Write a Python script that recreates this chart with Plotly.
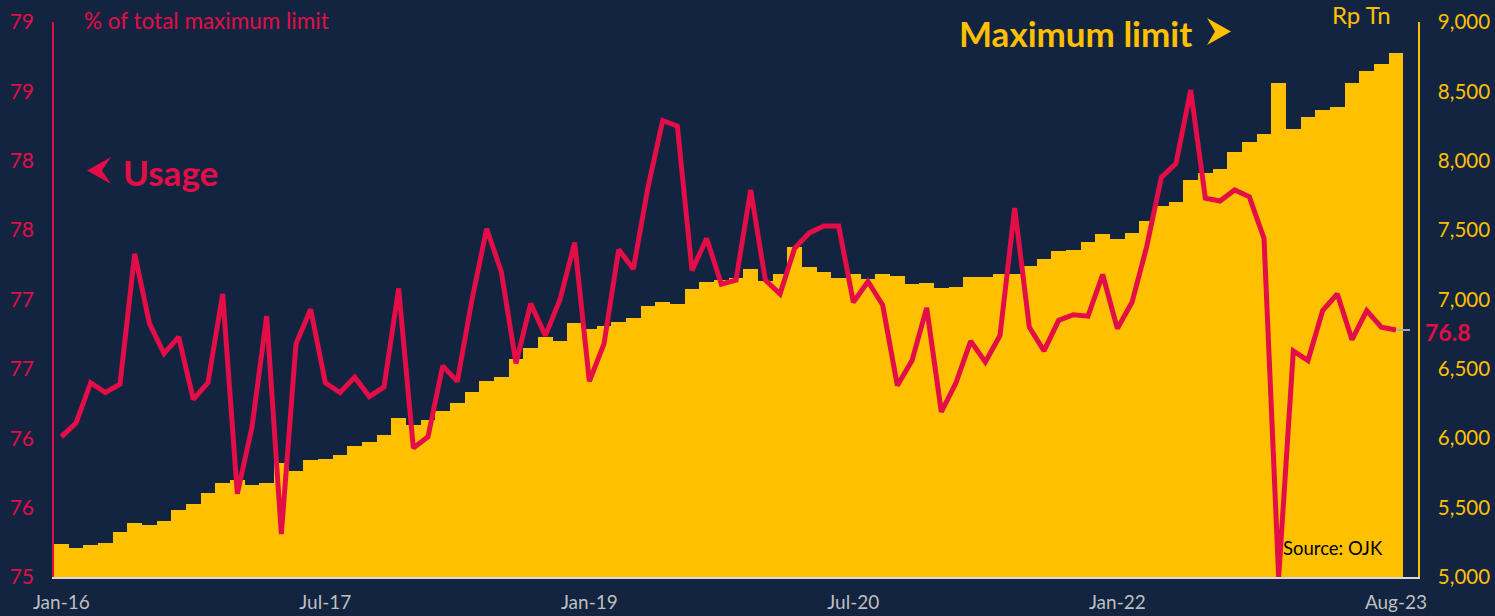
import pandas as pd
import plotly.graph_objects as go

# ---------------- data ----------------
months = list(pd.date_range("2016-01-01", periods=92, freq="MS").strftime("%b-%y"))

usage_pct = [
    76.01, 76.11, 76.40, 76.33, 76.39, 77.33, 76.83, 76.61, 76.73, 76.28, 76.40, 77.04,
    75.60, 76.08, 76.88, 75.31, 76.68, 76.93, 76.40, 76.33, 76.44, 76.30, 76.37, 77.08,
    75.93, 76.01, 76.52, 76.41, 77.00, 77.51, 77.20, 76.54, 76.97, 76.74, 77.00, 77.41,
    76.41, 76.68, 77.36, 77.22, 77.81, 78.29, 78.25, 77.21, 77.44, 77.11, 77.14, 77.79,
    77.14, 77.04, 77.37, 77.48, 77.53, 77.53, 76.98, 77.13, 76.96, 76.38, 76.56, 76.94,
    76.19, 76.40, 76.70, 76.55, 76.74, 77.66, 76.80, 76.63, 76.85, 76.89, 76.88, 77.18,
    76.79, 76.98, 77.38, 77.88, 77.98, 78.51, 77.73, 77.71, 77.79, 77.74, 77.44, 75.00,
    76.63, 76.56, 76.92, 77.04, 76.71, 76.92, 76.80, 76.78,
]

max_limit = [
    5238, 5211, 5231, 5247, 5324, 5387, 5377, 5406, 5483, 5524, 5603, 5680,
    5699, 5661, 5680, 5819, 5766, 5843, 5848, 5877, 5944, 5970, 6026, 6144,
    6096, 6132, 6199, 6251, 6336, 6415, 6444, 6569, 6650, 6732, 6699, 6833,
    6785, 6811, 6840, 6867, 6956, 6980, 6968, 7073, 7128, 7141, 7157, 7218,
    7133, 7184, 7378, 7236, 7198, 7155, 7184, 7150, 7181, 7172, 7112, 7121,
    7083, 7090, 7162, 7160, 7181, 7181, 7241, 7289, 7352, 7357, 7417, 7472,
    7434, 7481, 7568, 7676, 7705, 7862, 7915, 7941, 8060, 8136, 8191, 8559,
    8230, 8318, 8369, 8384, 8561, 8647, 8698, 8774,
]

x_ticks = ["Jan-16", "Jul-17", "Jan-19", "Jul-20", "Jan-22", "Aug-23"]
left_tickvals = [75, 75.5, 76, 76.5, 77, 77.5, 78, 78.5, 79]
left_ticktext = ["75", "76", "76", "77", "77", "78", "78", "79", "79"]
right_tickvals = [5000, 5500, 6000, 6500, 7000, 7500, 8000, 8500, 9000]
right_ticktext = ["5,000", "5,500", "6,000", "6,500", "7,000", "7,500", "8,000", "8,500", "9,000"]

# ---------------- style ----------------
NAVY = "#12243F"
RED = "#E30D47"
YEL = "#FFC000"
GREY = "#BFBFBF"
FONT = "Lato"

W, H = 1495, 616
L, R, T, B = 54, 1418, 22, 577


def px(x):
    return (x - L) / (R - L)


def py(y):
    return (B - y) / (B - T)


fig = go.Figure()

fig.add_trace(go.Bar(
    x=months, y=max_limit, yaxis="y",
    marker=dict(color=YEL, line=dict(width=0)),
    name="Maximum limit", hoverinfo="x+y",
))

fig.add_trace(go.Scatter(
    x=months, y=usage_pct, yaxis="y2", mode="lines",
    line=dict(color=RED, width=5),
    name="Usage",
))

fig.update_layout(
    width=W, height=H,
    margin=dict(l=L, r=W - R, t=T, b=H - B, pad=0, autoexpand=False),
    paper_bgcolor=NAVY, plot_bgcolor=NAVY,
    showlegend=False, bargap=0,
    font=dict(family=FONT),
    xaxis=dict(
        type="category", range=[-0.5, 92.5], automargin=False,
        tickmode="array", tickvals=x_ticks, ticktext=x_ticks,
        tickfont=dict(color=GREY, size=19, family=FONT),
        ticks="outside", ticklen=7, tickcolor="rgba(0,0,0,0)",
        showline=True, linecolor="#D9D9D9", linewidth=2,
        showgrid=False, zeroline=False,
    ),
    yaxis=dict(
        side="right", range=[5000, 9000], automargin=False,
        tickmode="array", tickvals=right_tickvals, ticktext=right_ticktext,
        tickfont=dict(color=YEL, size=20.5, family=FONT),
        ticks="outside", ticklen=14, tickcolor="rgba(0,0,0,0)",
        showline=True, linecolor=YEL, linewidth=1.5,
        showgrid=False, zeroline=False,
    ),
    yaxis2=dict(
        overlaying="y", side="left", range=[75, 79], automargin=False,
        tickmode="array", tickvals=left_tickvals, ticktext=left_ticktext,
        tickfont=dict(color=RED, size=21, family=FONT),
        ticks="outside", ticklen=14, tickcolor="rgba(0,0,0,0)",
        showline=True, linecolor=RED, linewidth=1.5,
        showgrid=False, zeroline=False,
    ),
)

# connector from last point to the value label
last_val = usage_pct[-1]
fig.add_shape(type="line", xref="x", yref="y2",
              x0=len(months) - 1, x1=len(months) - 0.05, y0=last_val, y1=last_val,
              line=dict(color="#A6A6A6", width=2))

annotations = [
    dict(text="% of total maximum limit", x=px(82), y=py(20), xanchor="left", yanchor="middle",
         font=dict(color=RED, size=22.5, family=FONT)),
    dict(text="Usage", x=px(121), y=py(172), xanchor="left", yanchor="middle",
         font=dict(color=RED, size=35, family=FONT, weight="bold")),
    dict(text="Maximum limit", x=px(957), y=py(33), xanchor="left", yanchor="middle",
         font=dict(color=YEL, size=35, family=FONT, weight="bold")),
    dict(text="Rp Tn", x=px(1330), y=py(15), xanchor="left", yanchor="middle",
         font=dict(color=YEL, size=24, family=FONT)),
    dict(text="Source: OJK", x=px(1281), y=py(548), xanchor="left", yanchor="middle",
         font=dict(color="#000000", size=18.5, family=FONT)),
    dict(text=f"{last_val:.1f}", x=px(1423), y=py(332), xanchor="left", yanchor="middle",
         font=dict(color=RED, size=23, family=FONT, weight="bold")),
]
for a in annotations:
    fig.add_annotation(xref="paper", yref="paper", showarrow=False, **a)


def arrow_path(pts):
    return "M " + " L ".join(f"{px(x):.5f},{py(y):.5f}" for x, y in pts) + " Z"


# left-pointing arrowhead for "Usage"
fig.add_shape(type="path", xref="paper", yref="paper",
              path=arrow_path([(87, 170.5), (111, 157), (102, 170.5), (111, 184)]),
              fillcolor=RED, line=dict(width=0))
# right-pointing arrowhead for "Maximum limit"
fig.add_shape(type="path", xref="paper", yref="paper",
              path=arrow_path([(1231, 31.5), (1207, 18), (1215, 31.5), (1207, 45)]),
              fillcolor=YEL, line=dict(width=0))

fig.write_html("out.html",
               config={"displayModeBar": False},
               post_script="document.body.style.margin='0';document.body.style.background='#12243F';")
